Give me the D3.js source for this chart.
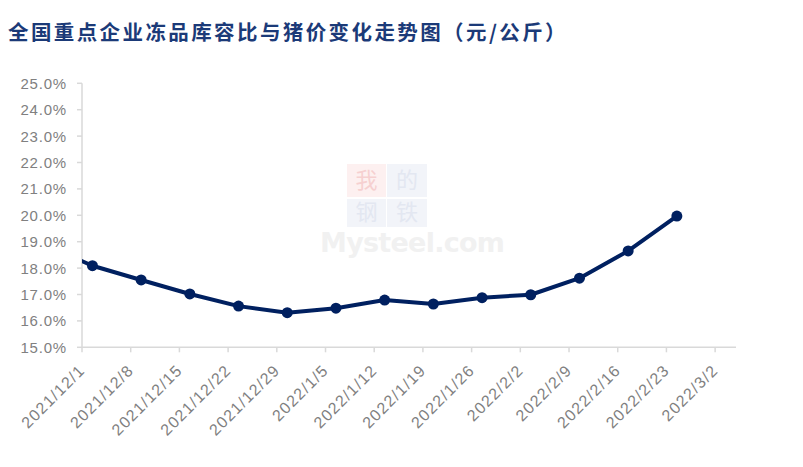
<!DOCTYPE html>
<html><head><meta charset="utf-8">
<script src="https://cdn.jsdelivr.net/npm/d3@7"></script>
<style>html,body{margin:0;padding:0;background:#fff;}svg{display:block;}</style>
</head><body>
<svg id="c" width="803" height="467"></svg>
<script>
const titleText = "全国重点企业冻品库容比与猪价变化走势图（元/公斤）";
const dates = ["2021/11/25","2021/12/2","2021/12/9","2021/12/16","2021/12/23","2021/12/30","2022/1/6","2022/1/13","2022/1/20","2022/1/27","2022/2/3","2022/2/10","2022/2/17","2022/2/24"];
const values = [18.9, 18.09, 17.55, 17.02, 16.56, 16.31, 16.48, 16.79, 16.64, 16.88, 16.99, 17.62, 18.65, 19.97];
const xTickLabels = ["2021/12/1","2021/12/8","2021/12/15","2021/12/22","2021/12/29","2022/1/5","2022/1/12","2022/1/19","2022/1/26","2022/2/2","2022/2/9","2022/2/16","2022/2/23","2022/3/2"];
const yTicks = [15,16,17,18,19,20,21,22,23,24,25];

const parse = s => { const [y,m,d] = s.split("/").map(Number); return new Date(Date.UTC(y, m-1, d)); };
const HALF_DAY = 12*3600*1000;

const svg = d3.select("#c");
const L = 82, R = 736, T = 83.3, B = 347.3;
const x = d3.scaleUtc().domain([parse("2021/12/1"), parse("2022/3/5")]).range([L, R]);
const y = d3.scaleLinear().domain([15, 25]).range([B, T]);

// title
svg.append("text").attr("x", 8).attr("y", 40).text(titleText)
  .attr("font-family", "'Noto Sans CJK SC', sans-serif").attr("font-weight", "bold")
  .attr("font-size", 20.5).attr("letter-spacing", 2.4).attr("fill", "#1b3a78");

// watermark
const wm = svg.append("g");
wm.append("rect").attr("x", 347).attr("y", 164).attr("width", 39).attr("height", 33).attr("fill", "#fdf0f0");
wm.append("rect").attr("x", 387).attr("y", 164).attr("width", 40).attr("height", 33).attr("fill", "#f2f4f9");
wm.append("rect").attr("x", 347).attr("y", 199).attr("width", 39).attr("height", 28).attr("fill", "#f2f4f9");
wm.append("rect").attr("x", 387).attr("y", 199).attr("width", 40).attr("height", 28).attr("fill", "#f2f4f9");
const wmChar = (t, cx, cy, col) => wm.append("text").attr("x", cx).attr("y", cy).attr("text-anchor", "middle")
  .attr("font-family", "'Noto Sans CJK SC', sans-serif").attr("font-size", 22).attr("fill", col).text(t);
wmChar("我", 366.5, 188, "#f6d0d0");
wmChar("的", 407, 188, "#e3e7f1");
wmChar("钢", 366.5, 220, "#e3e7f1");
wmChar("铁", 407, 220, "#e3e7f1");
wm.append("text").attr("x", 320).attr("y", 252).text("Mysteel.com")
  .attr("font-family", "'DejaVu Sans', sans-serif").attr("font-weight", "bold")
  .attr("font-size", 27).attr("textLength", 185).attr("fill", "#f1f1f1");

// axes
const axisCol = "#d9d9d9";
svg.append("line").attr("x1", L).attr("x2", L).attr("y1", T).attr("y2", B).attr("stroke", axisCol).attr("stroke-width", 1.5);
svg.append("line").attr("x1", L).attr("x2", R).attr("y1", B).attr("y2", B).attr("stroke", axisCol).attr("stroke-width", 1.5);
yTicks.forEach(v => {
  svg.append("line").attr("x1", L-5).attr("x2", L).attr("y1", y(v)).attr("y2", y(v)).attr("stroke", axisCol).attr("stroke-width", 1.5);
  svg.append("text").attr("x", 67).attr("y", y(v)).attr("dy", "0.36em").attr("text-anchor", "end")
    .attr("font-family", "'Liberation Sans', Arial, sans-serif").attr("font-size", 15).attr("letter-spacing", 0.8)
    .attr("fill", "#808080").text(v.toFixed(1) + "%");
});
xTickLabels.forEach(s => {
  const px = x(parse(s));
  svg.append("line").attr("x1", px).attr("x2", px).attr("y1", B).attr("y2", B+5).attr("stroke", axisCol).attr("stroke-width", 1.5);
  svg.append("text").attr("transform", `translate(${px+4},${B+24}) rotate(-45)`).attr("text-anchor", "end")
    .attr("font-family", "'Liberation Sans', Arial, sans-serif").attr("font-size", 16).attr("letter-spacing", 1.2)
    .attr("fill", "#808080").text(s);
});

// clip
svg.append("clipPath").attr("id", "clip").append("rect").attr("x", L).attr("y", 0).attr("width", R-L).attr("height", B+2);
const data = dates.map((d, i) => ({ t: new Date(parse(d).getTime() + HALF_DAY), v: values[i] }));
const g = svg.append("g").attr("clip-path", "url(#clip)");
g.append("path").datum(data)
  .attr("d", d3.line().x(d => x(d.t)).y(d => y(d.v)))
  .attr("fill", "none").attr("stroke", "#002060").attr("stroke-width", 4).attr("stroke-linejoin", "round");
g.selectAll("circle").data(data.filter(d => x(d.t) >= L)).join("circle")
  .attr("cx", d => x(d.t)).attr("cy", d => y(d.v)).attr("r", 5.5).attr("fill", "#002060");
</script>
</body></html>
